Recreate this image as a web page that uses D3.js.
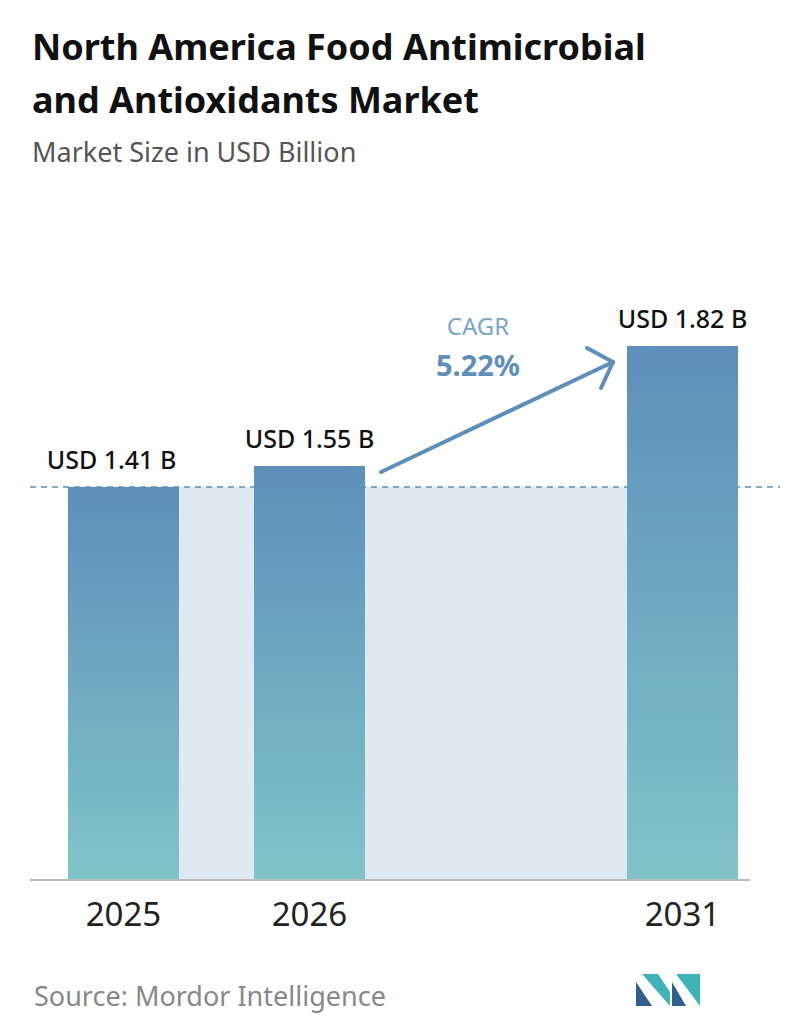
<!DOCTYPE html>
<html><head><meta charset="utf-8">
<script src="https://cdn.jsdelivr.net/npm/d3@7"></script>
<style>body{margin:0;background:#fff}</style>
</head><body><svg id="chart" width="796" height="1034"></svg>
<script>
const years = ["2025", "2026", "2031"];
const values = [1.41, 1.55, 1.82];
const labels = ["USD 1.41 B", "USD 1.55 B", "USD 1.82 B"];
const cagr = "5.22%";

const svg = d3.select("#chart").attr("font-family", "Noto Sans, sans-serif");
const baseY = 880;
// stylised, non-proportional axis as in the source graphic
const y = d3.scaleLinear().domain([0, 1.41, 1.55, 1.82]).range([baseY, 487, 466, 346]);
const x = d3.scaleOrdinal().domain(years).range([68, 254, 627]);
const bw = 111;

const grad = svg.append("defs").append("linearGradient").attr("id", "g")
  .attr("x1", 0).attr("y1", 0).attr("x2", 0).attr("y2", 1);
grad.append("stop").attr("offset", "0%").attr("stop-color", "#5d8fba");
grad.append("stop").attr("offset", "100%").attr("stop-color", "#80c4c9");

svg.append("text").attr("x", 32).attr("y", 60).attr("font-size", 36).attr("font-weight", "bold").attr("fill", "#111").text("North America Food Antimicrobial");
svg.append("text").attr("x", 32).attr("y", 113).attr("font-size", 36).attr("font-weight", "bold").attr("fill", "#111").text("and Antioxidants Market");
svg.append("text").attr("x", 32).attr("y", 162).attr("font-size", 27).attr("fill", "#555").text("Market Size in USD Billion");

svg.append("rect").attr("x", x(years[0]) + bw).attr("y", y(values[0]))
  .attr("width", x(years[2]) - x(years[0]) - bw).attr("height", baseY - y(values[0]))
  .attr("fill", "#dfe9f1");

svg.append("line").attr("x1", 30).attr("x2", 780).attr("y1", y(values[0])).attr("y2", y(values[0]))
  .attr("stroke", "#5d8fba").attr("stroke-width", 1.5).attr("stroke-dasharray", "6,5");

svg.selectAll(".bar").data(values).join("rect")
  .attr("x", (d, i) => x(years[i])).attr("y", d => y(d))
  .attr("width", bw).attr("height", d => baseY - y(d)).attr("fill", "url(#g)");

svg.selectAll(".lbl").data(values).join("text")
  .attr("x", (d, i) => x(years[i]) + bw / 2 - (i === 0 ? 12 : 0)).attr("y", d => y(d) - 18)
  .attr("text-anchor", "middle").attr("font-size", 25).attr("font-weight", 500).attr("fill", "#111").text((d, i) => labels[i]);

svg.append("line").attr("x1", 30).attr("x2", 750).attr("y1", baseY).attr("y2", baseY)
  .attr("stroke", "#bbb").attr("stroke-width", 2);

svg.selectAll(".yr").data(years).join("text")
  .attr("x", d => x(d) + bw / 2).attr("y", 926).attr("text-anchor", "middle")
  .attr("font-size", 33).attr("fill", "#222").text(d => d);

const ax1 = x(years[1]) + bw + 16, ay1 = y(values[1]) + 6, ax2 = x(years[2]) - 14, ay2 = 362;
svg.append("line").attr("x1", ax1).attr("y1", ay1).attr("x2", ax2).attr("y2", ay2)
  .attr("stroke", "#5d8fba").attr("stroke-width", 4).attr("stroke-linecap", "round");
svg.append("path").attr("d", `M${ax2 - 26},${ay2 - 14} L${ax2},${ay2} L${ax2 - 12},${ay2 + 26}`)
  .attr("fill", "none").attr("stroke", "#5d8fba").attr("stroke-width", 4)
  .attr("stroke-linecap", "round").attr("stroke-linejoin", "round");
svg.append("text").attr("x", 478).attr("y", 335).attr("text-anchor", "middle").attr("font-size", 24).attr("fill", "#7aa6c8").text("CAGR");
svg.append("text").attr("x", 478).attr("y", 376).attr("text-anchor", "middle").attr("font-size", 29).attr("font-weight", "bold").attr("fill", "#5d8fba").text(cagr);

svg.append("text").attr("x", 34).attr("y", 1006).attr("font-size", 27).attr("fill", "#888").text("Source: Mordor Intelligence");

const lg = svg.append("g").attr("transform", "translate(636,974)");
lg.append("path").attr("d", "M0,32 L0,8 L16,32 Z").attr("fill", "#2f5f8a");
lg.append("path").attr("d", "M6,0 L22,0 L34,18 L34,32 Z").attr("fill", "#3fb3b8");
lg.append("path").attr("d", "M36,32 L36,8 L50,32 Z").attr("fill", "#2f5f8a");
lg.append("path").attr("d", "M40,0 L64,0 L64,32 Z").attr("fill", "#3fb3b8");
</script></body></html>
